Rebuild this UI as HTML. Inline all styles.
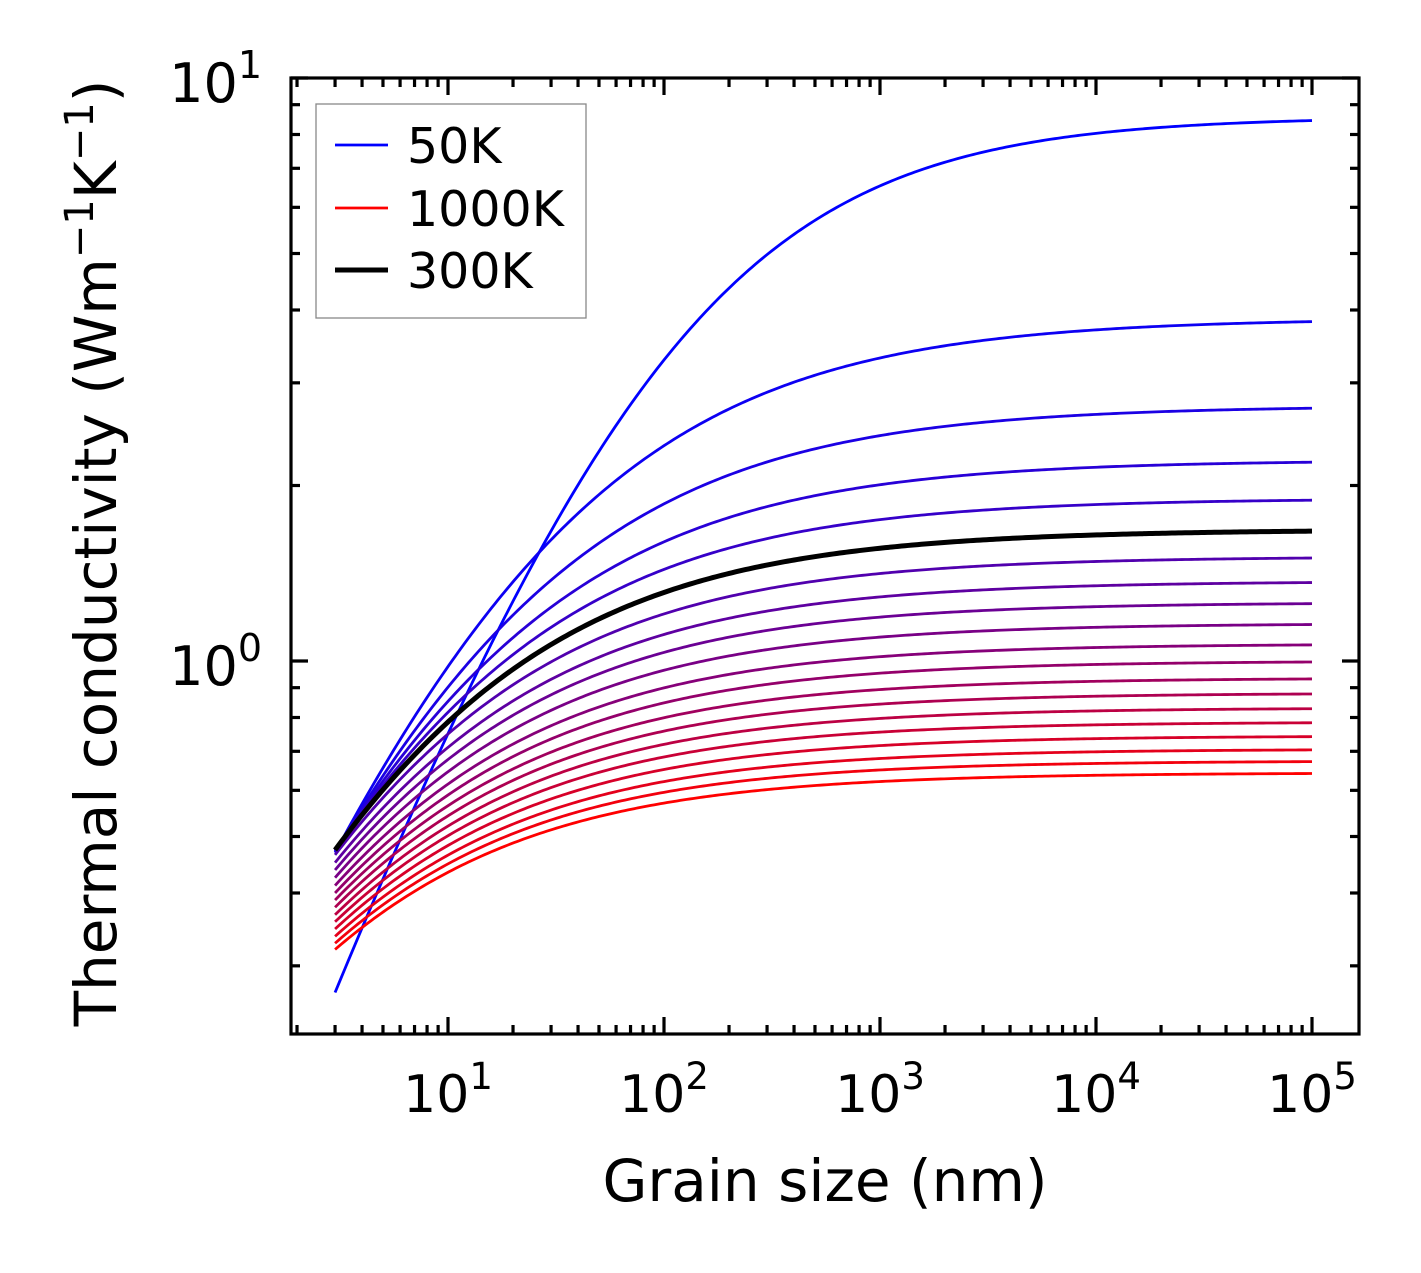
<!DOCTYPE html>
<html><head><meta charset="utf-8">
<style>
html,body{margin:0;padding:0;background:#fff;}
svg{display:block;font-family:"DejaVu Sans","Liberation Sans",sans-serif;}
</style></head>
<body>
<svg id="chart" width="1421" height="1273" viewBox="0 0 1421 1273" xmlns="http://www.w3.org/2000/svg"></svg>
<script>
// ---- data ----
const temperatures = [50,100,150,200,250,300,350,400,450,500,550,600,650,700,750,800,850,900,950,1000];
const plateauK = [8.58,3.87,2.74,2.21,1.90,1.68,1.51,1.37,1.26,1.16,1.07,1.00,0.935,0.881,0.831,0.786,0.744,0.706,0.674,0.643];
const startK = [0.27,0.469,0.471,0.473,0.474,0.474,0.465,0.451,0.438,0.425,0.412,0.400,0.389,0.378,0.367,0.357,0.347,0.337,0.328,0.320];
const shapeP = [0.65,0.55,0.55,0.55,0.55,0.55,0.55,0.55,0.55,0.55,0.55,0.55,0.55,0.55,0.55,0.55,0.55,0.55,0.55,0.55];
const grainMin = 3, grainMax = 1e5;
const xTickLabels = ["1","2","3","4","5"];
const yTickLabels = ["0","1"];

// ---- axes ----
const L=291,R=1359,T=78,B=1034;
const X0=448, XD=216;
const Y0=661, YD=583;
const xs=v=>X0+(Math.log10(v)-1)*XD;
const ys=v=>Y0-Math.log10(v)*YD;
const NS="http://www.w3.org/2000/svg";
const svg=document.getElementById('chart');
function mk(tag,attrs,parent){const e=document.createElementNS(NS,tag);for(const k in attrs)e.setAttribute(k,attrs[k]);(parent||svg).appendChild(e);return e;}

const clip=mk('clipPath',{id:'pc'});mk('rect',{x:L,y:T,width:R-L,height:B-T},clip);
const gLines=mk('g',{'clip-path':'url(#pc)'});



function curve(i){
  const p=shapeP[i], kinf=plateauK[i], r0=startK[i]/kinf;
  const lam=grainMin*Math.pow(Math.pow(r0,-p)-1,1/p);
  let d='';
  for(let j=0;j<=300;j++){
    const lg=Math.log10(grainMin)+(Math.log10(grainMax)-Math.log10(grainMin))*j/300;
    const Lg=Math.pow(10,lg);
    const k=kinf*Math.pow(1+Math.pow(lam/Lg,p),-1/p);
    d+=(j?'L':'M')+xs(Lg).toFixed(2)+','+ys(k).toFixed(2);
  }
  return d;
}
temperatures.forEach((t,i)=>{
  if(t===300) return;
  const f=i/(temperatures.length-1);
  const col=`rgb(${Math.round(255*f)},0,${Math.round(255*(1-f))})`;
  const pth=mk('path',{d:curve(i),fill:'none',stroke:col,'stroke-width':2.8},gLines);
  
  
});
const i300=temperatures.indexOf(300);
const bp=mk('path',{d:curve(i300),fill:'none',stroke:'#000','stroke-width':5},gLines);



const fr=mk('rect',{x:L,y:T,width:R-L,height:B-T,fill:'none',stroke:'#000','stroke-width':3.2});



const tg=mk('g',{stroke:'#000','stroke-width':3.2});
for(let e=0;e<=5;e++){for(let m=1;m<10;m++){
  const v=m*Math.pow(10,e); const x=xs(v); if(x<L+1||x>R-1) continue;
  const len=m===1?17:9;
  mk('line',{x1:x,y1:B,x2:x,y2:B-len},tg); mk('line',{x1:x,y1:T,x2:x,y2:T+len},tg);
}}
for(let e=-1;e<=1;e++){for(let m=1;m<10;m++){
  const v=m*Math.pow(10,e); const y=ys(v); if(y<T-1||y>B-1) continue;
  const len=m===1?17:9;
  mk('line',{x1:L,y1:y,x2:L+len,y2:y},tg); mk('line',{x1:R,y1:y,x2:R-len,y2:y},tg);
}}
xTickLabels.forEach(s=>{
  const x=xs(Math.pow(10,+s));
  const t=mk('text',{x:x,y:1112,'font-size':52,'text-anchor':'middle'});
  
  
  t.innerHTML='10<tspan dy="-23" font-size="37">'+s+'</tspan>';
});
yTickLabels.forEach(s=>{
  const y=ys(Math.pow(10,+s));
  const t=mk('text',{x:262,y:y+24,'font-size':54,'text-anchor':'end'});
  
  
  t.innerHTML='10<tspan dy="-24" font-size="38">'+s+'</tspan>';
});
const xt=mk('text',{x:825,y:1201,'font-size':58,'text-anchor':'middle'});


xt.textContent='Grain size (nm)';
const yt=mk('text',{x:0,y:0,'font-size':58,'text-anchor':'middle',transform:'translate(116,553) rotate(-90)'});


yt.innerHTML='Thermal conductivity (Wm<tspan dy="-23" font-size="40">−1</tspan><tspan dy="23">K</tspan><tspan dy="-23" font-size="40">−1</tspan><tspan dy="23">)</tspan>';

const lg=mk('g',{});


mk('rect',{x:316,y:104,width:270,height:214,fill:'#fff',stroke:'#888','stroke-width':1.3},lg);
const legendItems=[['50K','rgb(0,0,255)',2.8,145],['1000K','rgb(255,0,0)',2.8,208],['300K','#000',5,270]];
legendItems.forEach(([lab,col,w,y])=>{
  const g=mk('g',{},lg);
  
  
  mk('line',{x1:335,y1:y,x2:388,y2:y,stroke:col,'stroke-width':w},g);
  const t=mk('text',{x:407,y:y+18,'font-size':49},g);
  t.textContent=lab;
});
</script>
</body></html>
